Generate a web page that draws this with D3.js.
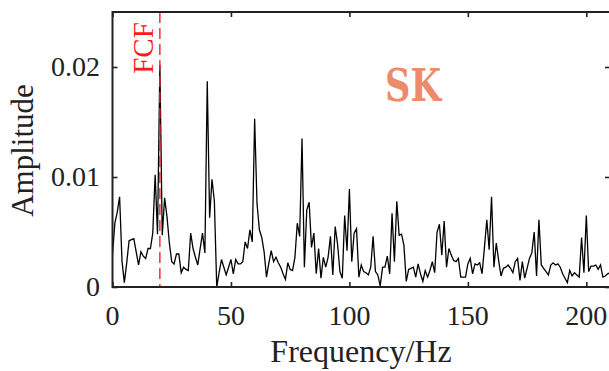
<!DOCTYPE html>
<html>
<head>
<meta charset="utf-8">
<script src="https://cdn.jsdelivr.net/npm/d3@7"></script>
<style>
  html, body { margin: 0; padding: 0; background: #fff; }
  svg { display: block; }
  text { font-family: "Liberation Serif", "Times New Roman", serif; }
</style>
</head>
<body>
<svg id="chart" width="609" height="371"></svg>
<script>
// ---- data ----
const freqStep = 1; // Hz between spectrum bins
const amplitude = [
  0.0030, 0.0058, 0.0068, 0.0082, 0.0024, 0.0004, 0.0022, 0.0042, 0.0043, 0.0044,
  0.0032, 0.0020, 0.0032, 0.0028, 0.0026, 0.0035, 0.0035, 0.0049, 0.0102, 0.0048,
  0.0202, 0.0047, 0.0081, 0.0064, 0.0040, 0.0023, 0.0021, 0.0030, 0.0030, 0.0013,
  0.0018, 0.0016, 0.0015, 0.0049, 0.0035, 0.0027, 0.0020, 0.0035, 0.0049, 0.0031,
  0.0187, 0.0063, 0.0098, 0.0078, 0.0000, 0.0013, 0.0025, 0.0018, 0.0011, 0.0018,
  0.0025, 0.0012, 0.0025, 0.0021, 0.0021, 0.0023, 0.0041, 0.0035, 0.0052, 0.0041,
  0.0153, 0.0076, 0.0052, 0.0045, 0.0032, 0.0009, 0.0022, 0.0033, 0.0023, 0.0027,
  0.0022, 0.0018, 0.0012, 0.0007, 0.0022, 0.0016, 0.0015, 0.0027, 0.0058, 0.0046,
  0.0135, 0.0018, 0.0070, 0.0077, 0.0036, 0.0049, 0.0012, 0.0035, 0.0008, 0.0027,
  0.0018, 0.0027, 0.0046, 0.0011, 0.0055, 0.0039, 0.0014, 0.0008, 0.0065, 0.0033,
  0.0089, 0.0023, 0.0049, 0.0053, 0.0009, 0.0020, 0.0014, 0.0013, 0.0011, 0.0018,
  0.0046, 0.0014, 0.0011, 0.0001, 0.0018, 0.0018, 0.0028, 0.0012, 0.0067, 0.0023,
  0.0078, 0.0047, 0.0048, 0.0038, 0.0005, 0.0016, 0.0017, 0.0018, 0.0009, 0.0021,
  0.0012, 0.0005, 0.0015, 0.0009, 0.0015, 0.0023, 0.0013, 0.0050, 0.0057, 0.0029,
  0.0060, 0.0018, 0.0035, 0.0029, 0.0024, 0.0023, 0.0026, 0.0009, 0.0009, 0.0009,
  0.0021, 0.0026, 0.0012, 0.0021, 0.0020, 0.0022, 0.0012, 0.0036, 0.0061, 0.0034,
  0.0082, 0.0018, 0.0040, 0.0024, 0.0010, 0.0017, 0.0018, 0.0020, 0.0017, 0.0013,
  0.0023, 0.0026, 0.0006, 0.0023, 0.0008, 0.0017, 0.0026, 0.0031, 0.0050, 0.0010,
  0.0061, 0.0020, 0.0017, 0.0014, 0.0011, 0.0020, 0.0022, 0.0020, 0.0021, 0.0018,
  0.0012, 0.0008, 0.0004, 0.0015, 0.0010, 0.0013, 0.0011, 0.0009, 0.0045, 0.0013,
  0.0065, 0.0014, 0.0019, 0.0019, 0.0020, 0.0016, 0.0020, 0.0009, 0.0010, 0.0012,
  0.0013
];
const xTicks = [0, 50, 100, 150, 200];
const xTickLabels = ["0", "50", "100", "150", "200"];
const yTicks = [0, 0.01, 0.02];
const yTickLabels = ["0", "0.01", "0.02"];
const xDomain = [0, 210];
const yDomain = [0, 0.025];
const markerFreq = 20;
const markerLabel = "FCF";
const methodLabel = "SK";
const xLabel = "Frequency/Hz";
const yLabel = "Amplitude";

// ---- layout ----
const svg = d3.select("#chart");
const mLeft = 112.5, mRight = 610, mTop = 12, mBottom = 287;

const x = d3.scaleLinear().domain(xDomain).range([mLeft, mRight]);
const y = d3.scaleLinear().domain(yDomain).range([mBottom, mTop]);

const pts = amplitude.map((v, i) => [i * freqStep, v]);

svg.append("clipPath").attr("id", "clip")
  .append("rect").attr("x", mLeft).attr("y", mTop).attr("width", mRight - mLeft).attr("height", mBottom - mTop);

// data line
svg.append("path")
  .datum(pts)
  .attr("clip-path", "url(#clip)")
  .attr("fill", "none")
  .attr("stroke", "#000")
  .attr("stroke-width", 1.3)
  .attr("stroke-linejoin", "miter")
  .attr("d", d3.line().x(d => x(d[0])).y(d => y(d[1])));

// red dashed marker
svg.append("line")
  .attr("x1", x(markerFreq)).attr("x2", x(markerFreq))
  .attr("y1", y(yDomain[1])).attr("y2", y(0))
  .attr("stroke", "#ff1a1a")
  .attr("stroke-width", 1.4)
  .attr("stroke-dasharray", "11,5");

// axes (ticks inside)
const axisColor = "#222";
const tickLen = 5;
const bx = d3.axisBottom(x).tickValues(xTicks).tickSize(tickLen).tickFormat("");
const tx = d3.axisTop(x).tickValues(xTicks).tickSize(tickLen).tickFormat("");
const ly = d3.axisLeft(y).tickValues(yTicks).tickSize(tickLen).tickFormat("");
const ry = d3.axisRight(y).tickValues(yTicks).tickSize(tickLen).tickFormat("");

function styleAxis(g) {
  g.select(".domain").remove();
  g.selectAll(".tick line").attr("stroke", axisColor).attr("stroke-width", 1.6);
}
svg.append("g").attr("transform", `translate(0,${mBottom - tickLen})`).call(bx).call(styleAxis);
svg.append("g").attr("transform", `translate(0,${mTop + tickLen})`).call(tx).call(styleAxis);
svg.append("g").attr("transform", `translate(${mLeft + tickLen},0)`).call(ly).call(styleAxis);
svg.append("g").attr("transform", `translate(${mRight - tickLen},0)`).call(ry).call(styleAxis);

// frame
svg.append("rect")
  .attr("x", mLeft).attr("y", mTop)
  .attr("width", mRight - mLeft).attr("height", mBottom - mTop)
  .attr("fill", "none").attr("stroke", axisColor).attr("stroke-width", 2);

// tick labels
svg.selectAll(".xtl").data(xTicks).enter().append("text")
  .attr("x", d => x(d)).attr("y", 325)
  .attr("text-anchor", "middle")
  .attr("font-size", 28).attr("fill", "#222")
  .text((d, i) => xTickLabels[i]);

svg.selectAll(".ytl").data(yTicks).enter().append("text")
  .attr("x", 100).attr("y", d => y(d) + 9)
  .attr("text-anchor", "end")
  .attr("font-size", 28).attr("fill", "#222")
  .text((d, i) => yTickLabels[i]);

// axis labels
svg.append("text")
  .attr("x", 361).attr("y", 362)
  .attr("text-anchor", "middle")
  .attr("font-size", 32).attr("fill", "#222")
  .text(xLabel);

svg.append("text")
  .attr("transform", `translate(33,${(mTop + mBottom) / 2 + 1}) rotate(-90)`)
  .attr("text-anchor", "middle")
  .attr("font-size", 31).attr("fill", "#222")
  .text(yLabel);

// FCF label
svg.append("text")
  .attr("transform", `translate(153,48) rotate(-90)`)
  .attr("text-anchor", "middle")
  .attr("font-size", 29).attr("fill", "#ff1a1a")
  .text(markerLabel);

// SK label
svg.append("text")
  .attr("x", 385).attr("y", 101)
  .attr("textLength", 56)
  .attr("lengthAdjust", "spacingAndGlyphs")
  .style("font-family", "'DejaVu Serif', serif")
  .style("font-weight", "bold")
  .attr("font-size", 44).attr("fill", "#EC8B6B")
  .text(methodLabel);
</script>
</body>
</html>
